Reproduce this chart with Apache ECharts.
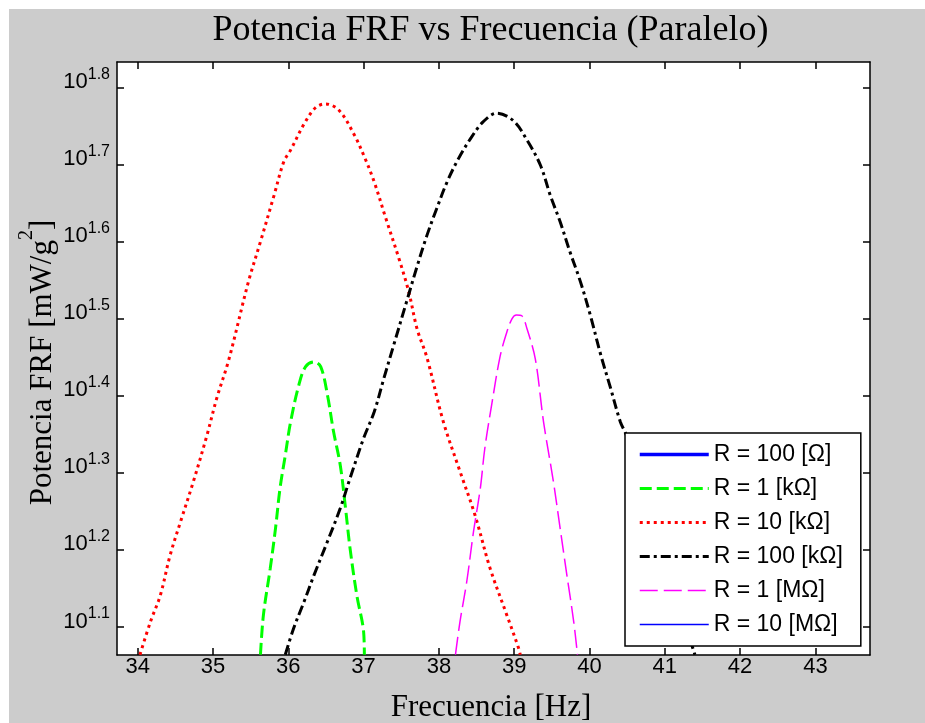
<!DOCTYPE html>
<html>
<head>
<meta charset="utf-8">
<script src="https://cdn.jsdelivr.net/npm/echarts@6/dist/echarts.min.js"></script>
<style>
body { margin: 0; background: #fff; }
#holder { position: absolute; left: 9px; top: 9px; width: 916px; height: 714px; background: #cccccc; }
</style>
</head>
<body>
<div id="holder"></div>
<script>
// ticks
var freqTicks = [34, 35, 36, 37, 38, 39, 40, 41, 42, 43]
var powTicks = [1.1, 1.2, 1.3, 1.4, 1.5, 1.6, 1.7, 1.8]

// values: frequency [Hz] and log10 of the power
var r100Freq = []
var r100Pow = []

var r1kFreq = [35.63, 35.67, 35.76, 35.83, 35.89, 35.96, 36.03, 36.14, 36.23, 36.34, 36.43, 36.52, 36.60, 36.69, 36.76, 36.82, 36.91, 37.00, 37.01]
var r1kPow = [1.064, 1.116, 1.176, 1.228, 1.280, 1.323, 1.366, 1.414, 1.438, 1.444, 1.438, 1.401, 1.354, 1.310, 1.254, 1.202, 1.141, 1.094, 1.064]

var r10kFreq = [34.03, 34.17, 34.30, 34.43, 34.57, 34.74, 34.92, 35.05, 35.21, 35.47, 35.63, 35.81, 35.94, 36.03, 36.21, 36.36, 36.49, 36.67, 36.87, 37.02, 37.14, 37.29, 37.47, 37.60, 37.71, 37.84, 38.06, 38.28, 38.48, 38.68, 38.90, 39.06, 39.08]
var r10kPow = [1.064, 1.107, 1.141, 1.193, 1.237, 1.289, 1.349, 1.397, 1.447, 1.548, 1.600, 1.660, 1.704, 1.719, 1.753, 1.774, 1.779, 1.771, 1.740, 1.708, 1.678, 1.632, 1.578, 1.535, 1.487, 1.450, 1.366, 1.302, 1.245, 1.176, 1.116, 1.072, 1.064]

var r100kFreq = [35.96, 36.07, 36.21, 36.34, 36.52, 36.69, 36.82, 37.00, 37.14, 37.27, 37.40, 37.57, 37.71, 37.84, 37.97, 38.11, 38.26, 38.42, 38.59, 38.77, 38.99, 39.17, 39.35, 39.48, 39.61, 39.74, 39.88, 40.01, 40.15, 40.28, 40.41, 40.48, 40.75, 41.05, 41.40]
var r100kPow = [1.064, 1.098, 1.133, 1.167, 1.211, 1.254, 1.293, 1.345, 1.379, 1.423, 1.466, 1.522, 1.568, 1.608, 1.643, 1.678, 1.708, 1.734, 1.756, 1.767, 1.757, 1.732, 1.699, 1.660, 1.626, 1.587, 1.548, 1.505, 1.453, 1.410, 1.366, 1.351, 1.270, 1.170, 1.064]

var r1MFreq = [38.22, 38.28, 38.37, 38.46, 38.55, 38.61, 38.70, 38.81, 38.89, 38.97, 39.03, 39.10, 39.17, 39.28, 39.39, 39.52, 39.61, 39.70, 39.79, 39.84]
var r1MPow = [1.064, 1.107, 1.159, 1.224, 1.280, 1.332, 1.388, 1.450, 1.479, 1.500, 1.505, 1.504, 1.487, 1.448, 1.366, 1.289, 1.228, 1.167, 1.107, 1.064]

var r10MFreq = []
var r10MPow = []

var names = ['R = 100 [Ω]', 'R = 1 [kΩ]', 'R = 10 [kΩ]', 'R = 100 [kΩ]', 'R = 1 [MΩ]', 'R = 10 [MΩ]']

// line look of every series, same order as names
var styles = [
  { color: '#0000ff', width: 3.5, type: 'solid' },
  { color: '#00ff00', width: 3, type: [12, 5] },
  { color: '#ff0000', width: 3, type: [3, 4] },
  { color: '#000000', width: 3, type: [10, 4, 3, 4] },
  { color: '#ff00ff', width: 1.5, type: [18, 6] },
  { color: '#0000ff', width: 1.5, type: 'solid' }
]

function pairs(xs, ys) {
  return xs.map((x, i) => [x, ys[i]])
}

function mkseries(i, xs, ys) {
  var st = styles[i]
  return {
    name: names[i],
    type: 'line',
    data: pairs(xs, ys),
    symbol: 'none',
    smooth: 0.35,
    itemStyle: { color: st.color },
    lineStyle: { color: st.color, width: st.width, type: st.type },
    z: 2
  }
}

var xmin = 33.725, xmax = 43.725
var ymin = 1.0636, ymax = 1.8334
var axisCol = '#000'

function boxAxis(pos, isX) {
  return {
    type: 'value',
    position: pos,
    min: isX ? xmin : ymin,
    max: isX ? xmax : ymax,
    axisLine: { show: true, onZero: false, lineStyle: { color: axisCol, width: 1.5 } },
    axisTick: { show: true, inside: true, length: 7, customValues: isX ? freqTicks : powTicks, lineStyle: { color: axisCol, width: 1.5 } },
    axisLabel: { show: false },
    splitLine: { show: false }
  }
}

var xBottom = boxAxis('bottom', true)
xBottom.axisLabel = {
  show: true, customValues: freqTicks, margin: 1,
  fontSize: 22, fontFamily: 'Liberation Sans', color: '#000'
}
var yLeft = boxAxis('left', false)
// 10 with the exponent raised: both tokens sit on the line bottom, paddings lift them
yLeft.axisLabel = {
  show: true, customValues: powTicks, margin: 7,
  formatter: v => '{b|10}{s|' + v.toFixed(1) + '}',
  rich: {
    b: { fontSize: 22, fontFamily: 'Liberation Sans', color: '#000', lineHeight: 22, padding: [0, 0, 11, 0] },
    s: { fontSize: 16, fontFamily: 'Liberation Sans', color: '#000', lineHeight: 16, padding: [0, 0, 26, 0] }
  }
}

var chart = echarts.init(document.getElementById('holder'))

var option = {
  backgroundColor: 'transparent',
  animation: false,
  grid: { left: 108, top: 53, width: 753, height: 593, show: true, backgroundColor: '#fff', borderWidth: 0 },
  xAxis: [xBottom, boxAxis('top', true)],
  yAxis: [yLeft, boxAxis('right', false)],
  legend: {
    orient: 'vertical',
    left: 616, top: 424,
    itemWidth: 69, itemHeight: 14, itemGap: 11,
    padding: [10, 18, 10, 13],
    backgroundColor: '#fff',
    borderColor: '#000', borderWidth: 1.5,
    selectedMode: false,
    itemStyle: { opacity: 0 },
    textStyle: { fontSize: 23, fontFamily: 'Liberation Sans', color: '#000' },
    data: names.map((n, i) => ({ name: n, lineStyle: { width: styles[i].width, type: styles[i].type, color: styles[i].color } })),
    z: 10
  },
  series: [
    mkseries(0, r100Freq, r100Pow),
    mkseries(1, r1kFreq, r1kPow),
    mkseries(2, r10kFreq, r10kPow),
    mkseries(3, r100kFreq, r100kPow),
    mkseries(4, r1MFreq, r1MPow),
    mkseries(5, r10MFreq, r10MPow)
  ],
  graphic: [
    {
      type: 'text', x: 481.5, y: 21.5,
      style: { text: 'Potencia FRF vs Frecuencia (Paralelo)', fontSize: 36, fontFamily: 'Liberation Serif', fill: '#000', align: 'center', verticalAlign: 'middle' }
    },
    {
      type: 'text', x: 482, y: 698.5,
      style: { text: 'Frecuencia [Hz]', fontSize: 31, fontFamily: 'Liberation Serif', fill: '#000', align: 'center', verticalAlign: 'middle' }
    },
    {
      type: 'text', x: 28.5, y: 353.5, rotation: Math.PI / 2,
      style: {
        text: '{m|Potencia FRF [mW/g}{sup|2}{m|]}',
        align: 'center', verticalAlign: 'middle',
        rich: {
          m: { fontSize: 31, fontFamily: 'Liberation Serif', fill: '#000', lineHeight: 32, padding: [10, 0, 0, 0] },
          sup: { fontSize: 20, fontFamily: 'Liberation Serif', fill: '#000', lineHeight: 18, padding: [0, 0, 22, 0] }
        }
      }
    }
  ]
}

chart.setOption(option)
</script>
</body>
</html>
